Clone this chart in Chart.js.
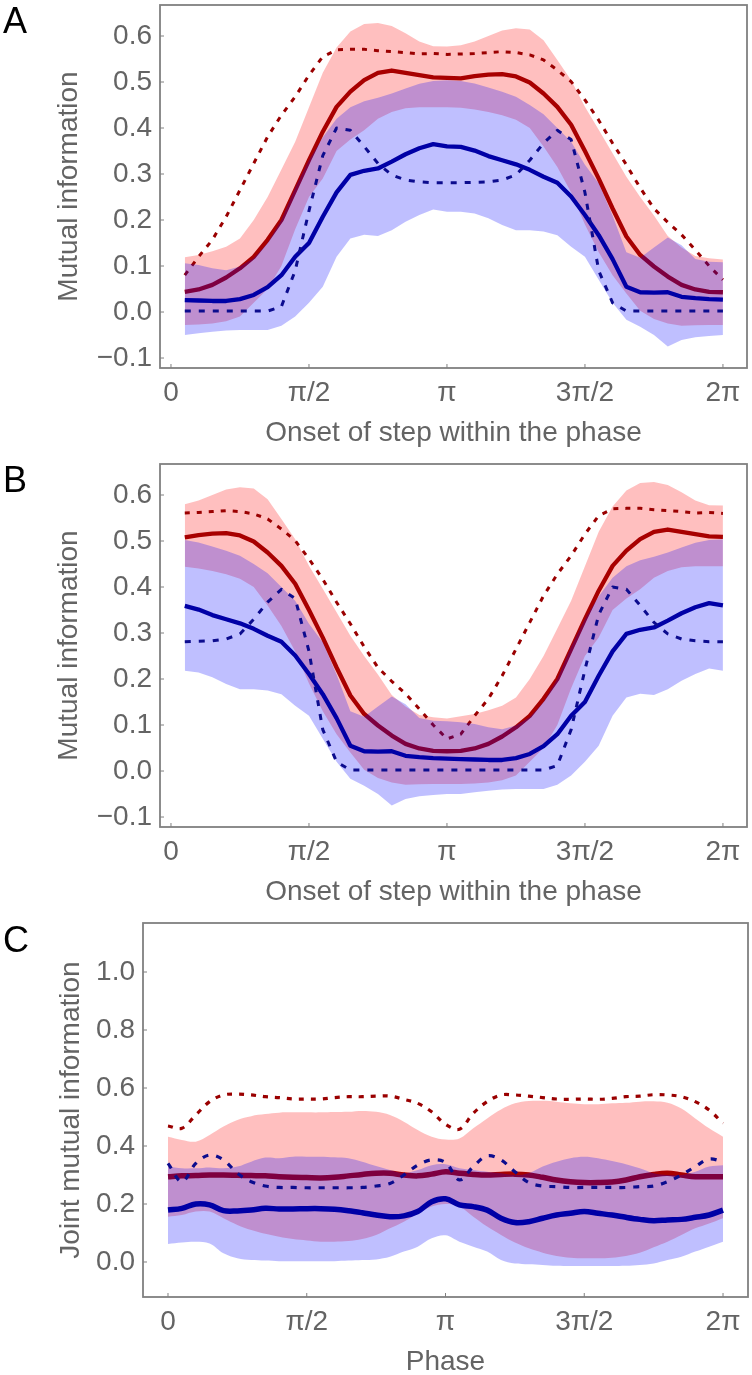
<!DOCTYPE html>
<html>
<head>
<meta charset="utf-8">
<script src="https://cdn.jsdelivr.net/npm/chart.js@4.4.1/dist/chart.umd.min.js"></script>
<style>
  html, body { margin: 0; padding: 0; background: #fff; overflow: hidden; }
  #page { position: relative; width: 752px; height: 1375px; }
  canvas { position: absolute; left: 0; }
  .tag { position: absolute; left: 3px; font: 36px/36px "Liberation Sans", Arial, sans-serif; color: #000; }
</style>
</head>
<body>
<div id="page">
  <canvas id="chartA" width="752" height="460" style="top:0"></canvas>
  <canvas id="chartB" width="752" height="460" style="top:459px"></canvas>
  <canvas id="chartC" width="752" height="456" style="top:919px"></canvas>
  <div class="tag" style="top:3px">A</div>
  <div class="tag" style="top:462px">B</div>
  <div class="tag" style="top:922px">C</div>
</div>
<script>
// phases (rad) at which the curves are sampled
var phasesAB = [0.157, 0.314, 0.471, 0.628, 0.785, 0.942, 1.100, 1.257, 1.414, 1.571,
  1.728, 1.885, 2.042, 2.199, 2.356, 2.513, 2.670, 2.827, 2.985, 3.142,
  3.299, 3.456, 3.613, 3.770, 3.927, 4.084, 4.241, 4.398, 4.555, 4.712,
  4.869, 5.027, 5.184, 5.341, 5.498, 5.655, 5.812, 5.969, 6.126, 6.283];
var phasesC = [0, 0.157, 0.314, 0.471, 0.628, 0.785, 0.942, 1.100, 1.257, 1.414, 1.571,
  1.728, 1.885, 2.042, 2.199, 2.356, 2.513, 2.670, 2.827, 2.985, 3.142,
  3.299, 3.456, 3.613, 3.770, 3.927, 4.084, 4.241, 4.398, 4.555, 4.712,
  4.869, 5.027, 5.184, 5.341, 5.498, 5.655, 5.812, 5.969, 6.126, 6.283];

// panel A
var redMeanA = [0.044, 0.049, 0.059, 0.075, 0.095, 0.12, 0.157, 0.2, 0.265, 0.33, 0.392, 0.446, 0.479, 0.504, 0.52, 0.525, 0.52, 0.515, 0.51, 0.509, 0.508, 0.513, 0.516, 0.517, 0.512, 0.499, 0.475, 0.446, 0.407, 0.35, 0.29, 0.225, 0.164, 0.124, 0.099, 0.077, 0.059, 0.049, 0.044, 0.043];
var redUpA = [0.119, 0.124, 0.132, 0.142, 0.16, 0.2, 0.25, 0.31, 0.37, 0.445, 0.52, 0.575, 0.61, 0.626, 0.628, 0.622, 0.606, 0.588, 0.578, 0.577, 0.58, 0.588, 0.6, 0.612, 0.617, 0.614, 0.591, 0.548, 0.504, 0.446, 0.396, 0.345, 0.294, 0.25, 0.21, 0.165, 0.14, 0.122, 0.117, 0.114];
var redLoA = [-0.028, -0.027, -0.025, -0.02, -0.01, 0.02, 0.05, 0.1, 0.18, 0.25, 0.29, 0.35, 0.375, 0.395, 0.42, 0.435, 0.443, 0.445, 0.445, 0.445, 0.444, 0.44, 0.435, 0.428, 0.418, 0.4, 0.36, 0.315, 0.26, 0.19, 0.13, 0.08, 0.04, 0.003, -0.015, -0.025, -0.03, -0.029, -0.028, -0.028];
var redDashA = [0.08, 0.12, 0.157, 0.207, 0.265, 0.323, 0.381, 0.428, 0.468, 0.515, 0.555, 0.57, 0.571, 0.571, 0.568, 0.566, 0.564, 0.561, 0.562, 0.56, 0.561, 0.562, 0.564, 0.566, 0.564, 0.559, 0.548, 0.526, 0.501, 0.461, 0.417, 0.367, 0.32, 0.27, 0.225, 0.195, 0.168, 0.135, 0.1, 0.07];
var blueMeanA = [0.026, 0.025, 0.024, 0.024, 0.028, 0.037, 0.054, 0.08, 0.12, 0.15, 0.207, 0.26, 0.298, 0.307, 0.312, 0.327, 0.343, 0.356, 0.365, 0.36, 0.359, 0.351, 0.339, 0.33, 0.321, 0.309, 0.294, 0.281, 0.251, 0.211, 0.167, 0.115, 0.055, 0.043, 0.042, 0.043, 0.033, 0.03, 0.028, 0.027];
var blueUpA = [0.106, 0.102, 0.095, 0.091, 0.099, 0.117, 0.15, 0.2, 0.27, 0.33, 0.38, 0.42, 0.445, 0.458, 0.466, 0.475, 0.486, 0.496, 0.502, 0.504, 0.502, 0.497, 0.488, 0.479, 0.468, 0.45, 0.43, 0.4, 0.37, 0.32, 0.28, 0.21, 0.13, 0.118, 0.14, 0.162, 0.145, 0.115, 0.109, 0.108];
var blueLoA = [-0.05, -0.046, -0.043, -0.04, -0.039, -0.039, -0.039, -0.03, -0.01, 0.02, 0.055, 0.12, 0.16, 0.168, 0.165, 0.178, 0.196, 0.211, 0.223, 0.218, 0.218, 0.214, 0.204, 0.189, 0.178, 0.178, 0.175, 0.167, 0.142, 0.12, 0.07, 0.02, -0.017, -0.032, -0.05, -0.075, -0.061, -0.055, -0.052, -0.05];
var blueDashA = [0.002, 0.002, 0.002, 0.002, 0.002, 0.002, 0.002, 0.012, 0.09, 0.22, 0.34, 0.4, 0.395, 0.36, 0.323, 0.298, 0.287, 0.283, 0.281, 0.281, 0.281, 0.282, 0.283, 0.287, 0.298, 0.33, 0.367, 0.395, 0.375, 0.26, 0.09, 0.02, 0.002, 0.002, 0.002, 0.002, 0.002, 0.002, 0.002, 0.002];

// panel B
var redMeanB = [0.508, 0.513, 0.516, 0.517, 0.512, 0.499, 0.475, 0.446, 0.407, 0.35, 0.29, 0.225, 0.164, 0.124, 0.099, 0.077, 0.059, 0.049, 0.044, 0.043, 0.044, 0.049, 0.059, 0.075, 0.095, 0.12, 0.157, 0.2, 0.265, 0.33, 0.392, 0.446, 0.479, 0.504, 0.52, 0.525, 0.52, 0.515, 0.51, 0.509];
var redUpB = [0.58, 0.588, 0.6, 0.612, 0.617, 0.614, 0.591, 0.548, 0.504, 0.446, 0.396, 0.345, 0.294, 0.25, 0.21, 0.165, 0.14, 0.122, 0.117, 0.114, 0.119, 0.124, 0.132, 0.142, 0.16, 0.2, 0.25, 0.31, 0.37, 0.445, 0.52, 0.575, 0.61, 0.626, 0.628, 0.622, 0.606, 0.588, 0.578, 0.577];
var redLoB = [0.444, 0.44, 0.435, 0.428, 0.418, 0.4, 0.36, 0.315, 0.26, 0.19, 0.13, 0.08, 0.04, 0.003, -0.015, -0.025, -0.03, -0.029, -0.028, -0.028, -0.028, -0.027, -0.025, -0.02, -0.01, 0.02, 0.05, 0.1, 0.18, 0.25, 0.29, 0.35, 0.375, 0.395, 0.42, 0.435, 0.443, 0.445, 0.445, 0.445];
var redDashB = [0.561, 0.562, 0.564, 0.566, 0.564, 0.559, 0.548, 0.526, 0.501, 0.461, 0.417, 0.367, 0.32, 0.27, 0.225, 0.195, 0.168, 0.135, 0.1, 0.07, 0.08, 0.12, 0.157, 0.207, 0.265, 0.323, 0.381, 0.428, 0.468, 0.515, 0.555, 0.57, 0.571, 0.571, 0.568, 0.566, 0.564, 0.561, 0.562, 0.56];
var blueMeanB = [0.359, 0.351, 0.339, 0.33, 0.321, 0.309, 0.294, 0.281, 0.251, 0.211, 0.167, 0.115, 0.055, 0.043, 0.042, 0.043, 0.033, 0.03, 0.028, 0.027, 0.026, 0.025, 0.024, 0.024, 0.028, 0.037, 0.054, 0.08, 0.12, 0.15, 0.207, 0.26, 0.298, 0.307, 0.312, 0.327, 0.343, 0.356, 0.365, 0.36];
var blueUpB = [0.502, 0.497, 0.488, 0.479, 0.468, 0.45, 0.43, 0.4, 0.37, 0.32, 0.28, 0.21, 0.13, 0.118, 0.14, 0.162, 0.145, 0.115, 0.109, 0.108, 0.106, 0.102, 0.095, 0.091, 0.099, 0.117, 0.15, 0.2, 0.27, 0.33, 0.38, 0.42, 0.445, 0.458, 0.466, 0.475, 0.486, 0.496, 0.502, 0.504];
var blueLoB = [0.218, 0.214, 0.204, 0.189, 0.178, 0.178, 0.175, 0.167, 0.142, 0.12, 0.07, 0.02, -0.017, -0.032, -0.05, -0.075, -0.061, -0.055, -0.052, -0.05, -0.05, -0.046, -0.043, -0.04, -0.039, -0.039, -0.039, -0.03, -0.01, 0.02, 0.055, 0.12, 0.16, 0.168, 0.165, 0.178, 0.196, 0.211, 0.223, 0.218];
var blueDashB = [0.281, 0.282, 0.283, 0.287, 0.298, 0.33, 0.367, 0.395, 0.375, 0.26, 0.09, 0.02, 0.002, 0.002, 0.002, 0.002, 0.002, 0.002, 0.002, 0.002, 0.002, 0.002, 0.002, 0.002, 0.002, 0.002, 0.002, 0.012, 0.09, 0.22, 0.34, 0.4, 0.395, 0.36, 0.323, 0.298, 0.287, 0.283, 0.281, 0.281];

// panel C
var redMeanC = [0.294, 0.297, 0.298, 0.3, 0.3, 0.299, 0.298, 0.297, 0.294, 0.292, 0.291, 0.29, 0.292, 0.297, 0.302, 0.306, 0.306, 0.3, 0.297, 0.303, 0.311, 0.306, 0.302, 0.3, 0.302, 0.303, 0.3, 0.292, 0.283, 0.277, 0.274, 0.274, 0.276, 0.283, 0.294, 0.302, 0.306, 0.3, 0.294, 0.294, 0.294];
var redUpC = [0.432, 0.421, 0.415, 0.438, 0.467, 0.49, 0.503, 0.51, 0.515, 0.516, 0.516, 0.516, 0.517, 0.518, 0.521, 0.518, 0.507, 0.484, 0.455, 0.432, 0.422, 0.426, 0.461, 0.495, 0.526, 0.547, 0.555, 0.556, 0.553, 0.547, 0.544, 0.544, 0.547, 0.549, 0.553, 0.554, 0.549, 0.529, 0.495, 0.461, 0.432];
var redLoC = [0.156, 0.162, 0.174, 0.174, 0.151, 0.128, 0.11, 0.097, 0.087, 0.079, 0.074, 0.07, 0.07, 0.072, 0.079, 0.093, 0.116, 0.139, 0.166, 0.191, 0.2, 0.191, 0.156, 0.122, 0.093, 0.067, 0.047, 0.032, 0.021, 0.015, 0.013, 0.013, 0.015, 0.021, 0.032, 0.051, 0.07, 0.093, 0.116, 0.133, 0.151];
var redDashC = [0.469, 0.461, 0.507, 0.553, 0.576, 0.579, 0.576, 0.57, 0.567, 0.562, 0.562, 0.562, 0.567, 0.57, 0.57, 0.572, 0.572, 0.561, 0.547, 0.518, 0.475, 0.458, 0.513, 0.553, 0.576, 0.576, 0.572, 0.567, 0.562, 0.561, 0.562, 0.561, 0.564, 0.57, 0.572, 0.577, 0.576, 0.57, 0.553, 0.524, 0.478];
var blueMeanC = [0.179, 0.185, 0.2, 0.197, 0.177, 0.176, 0.179, 0.185, 0.183, 0.183, 0.184, 0.184, 0.182, 0.177, 0.17, 0.162, 0.156, 0.159, 0.174, 0.208, 0.218, 0.197, 0.191, 0.179, 0.151, 0.136, 0.139, 0.151, 0.162, 0.168, 0.174, 0.168, 0.162, 0.154, 0.147, 0.142, 0.145, 0.147, 0.154, 0.162, 0.179];
var blueUpC = [0.329, 0.323, 0.323, 0.326, 0.323, 0.329, 0.346, 0.36, 0.358, 0.363, 0.363, 0.363, 0.361, 0.358, 0.346, 0.331, 0.317, 0.306, 0.317, 0.334, 0.337, 0.323, 0.317, 0.311, 0.306, 0.3, 0.306, 0.329, 0.346, 0.358, 0.363, 0.358, 0.348, 0.337, 0.323, 0.306, 0.3, 0.3, 0.311, 0.329, 0.334];
var blueLoC = [0.062, 0.067, 0.07, 0.064, 0.03, 0.013, 0.007, 0.005, 0.003, 0.003, 0.003, 0.003, 0.003, 0.005, 0.007, 0.009, 0.018, 0.036, 0.053, 0.082, 0.092, 0.07, 0.053, 0.036, 0.007, -0.005, -0.008, -0.01, -0.013, -0.014, -0.014, -0.014, -0.014, -0.013, -0.01, -0.005, 0.007, 0.018, 0.036, 0.053, 0.07];
var blueDashC = [0.34, 0.277, 0.34, 0.369, 0.352, 0.306, 0.277, 0.262, 0.257, 0.257, 0.256, 0.256, 0.256, 0.256, 0.257, 0.262, 0.271, 0.3, 0.334, 0.352, 0.343, 0.283, 0.329, 0.366, 0.352, 0.311, 0.274, 0.262, 0.26, 0.257, 0.257, 0.257, 0.257, 0.257, 0.26, 0.262, 0.277, 0.3, 0.329, 0.355, 0.346];

// ticks
var xTickVals = [0, Math.PI / 2, Math.PI, 3 * Math.PI / 2, 2 * Math.PI];
var xTickLabels = ['0', 'π/2', 'π', '3π/2', '2π'];
var yTickValsAB = [-0.1, 0, 0.1, 0.2, 0.3, 0.4, 0.5, 0.6];
var yTickLabelsAB = ['−0.1', '0.0', '0.1', '0.2', '0.3', '0.4', '0.5', '0.6'];
var yTickValsC = [0, 0.2, 0.4, 0.6, 0.8, 1.0];
var yTickLabelsC = ['0.0', '0.2', '0.4', '0.6', '0.8', '1.0'];

Chart.defaults.font.family = '"Liberation Sans", Arial, sans-serif';
Chart.defaults.color = '#646464';

function pts(xs, ys) {
  return xs.map(function (x, i) { return { x: x, y: ys[i] }; });
}

// frame round the plot area plus small inward tick marks
var framePlugin = {
  id: 'frame',
  afterDraw: function (chart) {
    var ctx = chart.ctx, a = chart.chartArea, sx = chart.scales.x, sy = chart.scales.y;
    ctx.save();
    ctx.strokeStyle = '#808080';
    ctx.lineWidth = 1.8;
    ctx.strokeRect(a.left, a.top, a.right - a.left, a.bottom - a.top);
    ctx.lineWidth = 1;
    ctx.beginPath();
    sx.ticks.forEach(function (t) {
      var px = sx.getPixelForValue(t.value);
      ctx.moveTo(px, a.bottom); ctx.lineTo(px, a.bottom - 4);
    });
    sy.ticks.forEach(function (t) {
      var py = sy.getPixelForValue(t.value);
      ctx.moveTo(a.left, py); ctx.lineTo(a.left + 4, py);
    });
    ctx.stroke();
    ctx.restore();
  }
};

function makeChart(id, cfg) {
  var xs = cfg.xs;
  var datasets = [
    { data: pts(xs, cfg.blueDash), borderColor: '#0c0c8e', borderWidth: cfg.dashW, borderDash: [6, 8], order: 0 },
    { data: pts(xs, cfg.blueMean), borderColor: '#0000a6', borderWidth: cfg.solidW, order: 1 },
    { data: pts(xs, cfg.blueUp), borderWidth: 0, backgroundColor: 'rgba(0,0,255,0.25)', fill: '+1', order: 2 },
    { data: pts(xs, cfg.blueLo), borderWidth: 0, fill: false, order: 2 },
    { data: pts(xs, cfg.redDash), borderColor: '#9a0000', borderWidth: cfg.dashW, borderDash: [5, 7], order: 3 },
    { data: pts(xs, cfg.redMean), borderColor: '#a80000', borderWidth: cfg.solidW, order: 4 },
    { data: pts(xs, cfg.redUp), borderWidth: 0, backgroundColor: 'rgba(255,0,0,0.25)', fill: '+1', order: 5 },
    { data: pts(xs, cfg.redLo), borderWidth: 0, fill: false, order: 5 }
  ];
  datasets.forEach(function (d) {
    d.pointRadius = 0;
    d.tension = cfg.tension;
    d.borderCapStyle = 'butt';
    d.borderJoinStyle = 'round';
    if (d.fill === undefined) d.fill = false;
  });
  return new Chart(document.getElementById(id), {
    type: 'line',
    data: { datasets: datasets },
    plugins: [framePlugin],
    options: {
      responsive: false,
      animation: false,
      devicePixelRatio: 1,
      layout: { padding: cfg.pad },
      plugins: { legend: { display: false }, tooltip: { enabled: false } },
      scales: {
        x: {
          type: 'linear', min: cfg.xMin, max: cfg.xMax,
          grid: { display: false, drawTicks: false }, border: { display: false },
          afterBuildTicks: function (s) { s.ticks = xTickVals.map(function (v) { return { value: v }; }); },
          afterFit: function (s) { s.height = cfg.xH; s.paddingLeft = 0; s.paddingRight = 0; },
          ticks: {
            autoSkip: false, maxRotation: 0, padding: 8, color: '#646464',
            font: { size: 28 },
            callback: function (v, i) { return xTickLabels[i]; }
          },
          title: {
            display: true, text: cfg.xTitle, color: '#646464',
            font: { size: 28, lineHeight: cfg.xTitleLH }, padding: { top: 0, bottom: cfg.xTitlePad }
          }
        },
        y: {
          type: 'linear', min: cfg.yMin, max: cfg.yMax,
          grid: { display: false, drawTicks: false }, border: { display: false },
          afterBuildTicks: function (s) { s.ticks = cfg.yVals.map(function (v) { return { value: v }; }); },
          afterFit: function (s) { s.width = cfg.yW; s.paddingTop = 0; s.paddingBottom = 0; },
          ticks: {
            autoSkip: false, padding: 8, color: '#646464',
            font: { size: 28 },
            callback: function (v, i) { return cfg.yLabels[i]; }
          },
          title: {
            display: true, text: cfg.yTitle, color: '#646464',
            font: { size: 28, lineHeight: 1 }, padding: { top: cfg.yTitlePad, bottom: 0 }
          }
        }
      }
    }
  });
}

makeChart('chartA', {
  xs: phasesAB, redMean: redMeanA, redUp: redUpA, redLo: redLoA, redDash: redDashA,
  blueMean: blueMeanA, blueUp: blueUpA, blueLo: blueLoA, blueDash: blueDashA,
  tension: 0, solidW: 4.3, dashW: 3,
  xMin: -0.125, xMax: 6.557, yMin: -0.1217, yMax: 0.6674,
  yVals: yTickValsAB, yLabels: yTickLabelsAB,
  pad: { left: 0, right: 5, top: 5, bottom: 0 }, xH: 92, yW: 160,
  xTitle: 'Onset of step within the phase', xTitleLH: 1, xTitlePad: 13,
  yTitle: 'Mutual information', yTitlePad: 55
});

makeChart('chartB', {
  xs: phasesAB, redMean: redMeanB, redUp: redUpB, redLo: redLoB, redDash: redDashB,
  blueMean: blueMeanB, blueUp: blueUpB, blueLo: blueLoB, blueDash: blueDashB,
  tension: 0, solidW: 4.3, dashW: 3,
  xMin: -0.125, xMax: 6.557, yMin: -0.1217, yMax: 0.6674,
  yVals: yTickValsAB, yLabels: yTickLabelsAB,
  pad: { left: 0, right: 5, top: 5, bottom: 0 }, xH: 92, yW: 160,
  xTitle: 'Onset of step within the phase', xTitleLH: 1, xTitlePad: 13,
  yTitle: 'Mutual information', yTitlePad: 55
});

makeChart('chartC', {
  xs: phasesC, redMean: redMeanC, redUp: redUpC, redLo: redLoC, redDash: redDashC,
  blueMean: blueMeanC, blueUp: blueUpC, blueLo: blueLoC, blueDash: blueDashC,
  tension: 0.35, solidW: 5.5, dashW: 3.2,
  xMin: -0.283, xMax: 6.566, yMin: -0.1207, yMax: 1.169,
  yVals: yTickValsC, yLabels: yTickLabelsC,
  pad: { left: 0, right: 4, top: 4, bottom: 0 }, xH: 78, yW: 143,
  xTitle: 'Phase', xTitleLH: 0.9, xTitlePad: 0,
  yTitle: 'Joint mutual information', yTitlePad: 57
});
</script>
</body>
</html>
